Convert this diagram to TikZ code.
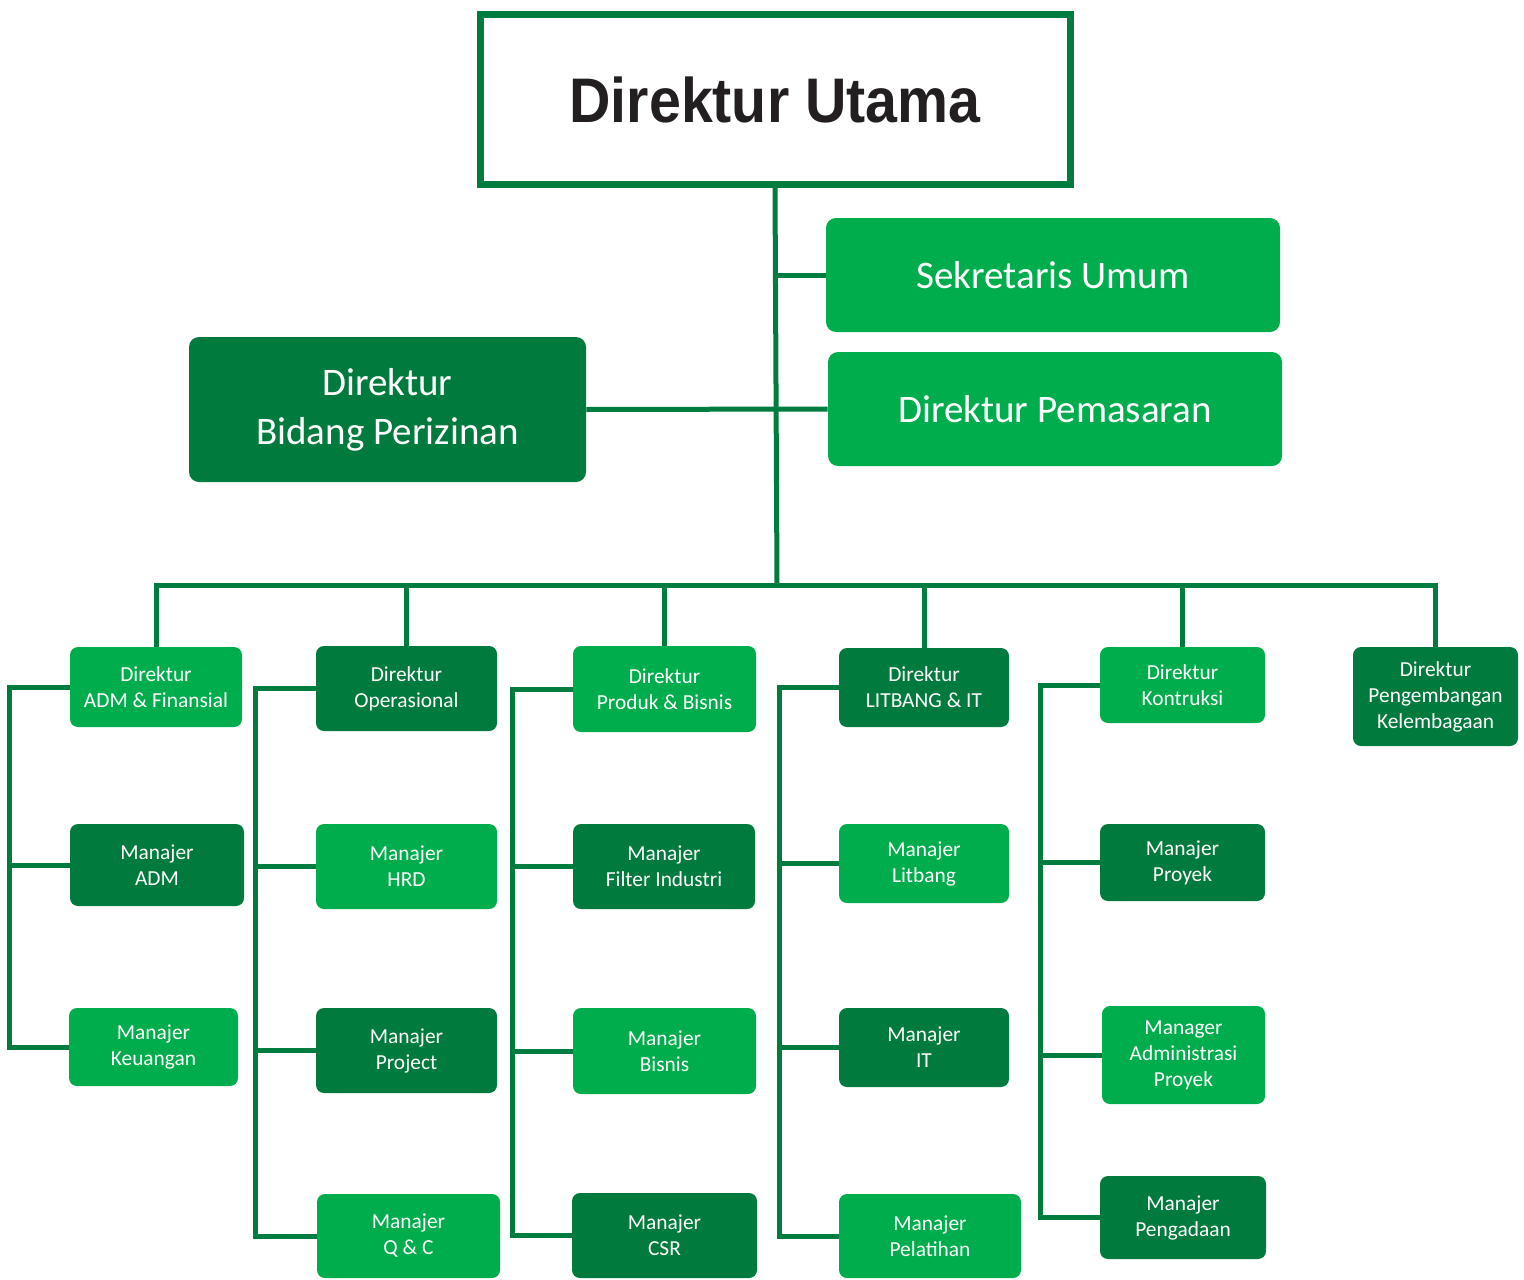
\documentclass[tikz,border=0pt]{standalone}
\usepackage{fontspec}
\usepackage{graphicx}
\usepackage{tikz}
\setmainfont{Carlito}
\newfontfamily\headfont{Liberation Sans}

\definecolor{lgreen}{RGB}{0,173,76}
\definecolor{dgreen}{RGB}{0,122,61}
\definecolor{lgreenline}{RGB}{0,125,62}
\definecolor{ink}{RGB}{35,31,32}

\tikzset{
	lightbox/.style={fill=lgreen, rounded corners=4pt, text=white, align=center, inner sep=0pt, font=\fontsize{10.7}{13}\selectfont},
	darkbox/.style={fill=dgreen, rounded corners=4pt, text=white, align=center, inner sep=0pt, font=\fontsize{10.7}{13}\selectfont},
	bigbox/.style={rounded corners=5pt, text=white, align=center, inner sep=0pt, font=\fontsize{19.5}{24.5}\selectfont},
	link/.style={draw=lgreenline, line width=2.5pt}
}

\begin{document}
\begin{tikzpicture}[x=0.5pt, y=-0.5pt]
	\useasboundingbox (0,0) rectangle (1524,1279);

	% top level
	\node[draw=lgreenline, line width=3.5pt, fill=white, minimum width=295pt, minimum height=84.5pt, inner sep=0pt] (utama) at (775,99.5)
		{\headfont\bfseries\fontsize{31.5}{36}\selectfont\color{ink}\scalebox{0.91}[1]{Direktur Utama}};
	\node[bigbox, fill=lgreen, minimum width=227pt, minimum height=57pt] (sekum) at (1053,275) {Sekretaris Umum};
	\node[bigbox, fill=lgreen, minimum width=227pt, minimum height=57pt] (pemasaran) at (1055,409) {Direktur Pemasaran};
	\node[bigbox, fill=dgreen, minimum width=198.5pt, minimum height=72.5pt] (izin) at (387.5,409.5) {Direktur\\Bidang Perizinan};

	% directors
	\node[lightbox, minimum width=86pt, minimum height=40pt] (d1) at (156,687) {Direktur\\ADM \& Finansial};
	\node[darkbox, minimum width=90.5pt, minimum height=42.5pt] (d2) at (406.5,688.5) {Direktur\\Operasional};
	\node[lightbox, minimum width=91.5pt, minimum height=43pt] (d3) at (664.5,689) {Direktur\\Produk \& Bisnis};
	\node[darkbox, minimum width=85pt, minimum height=39.5pt] (d4) at (924,687.5) {Direktur\\LITBANG \& IT};
	\node[lightbox, minimum width=82.5pt, minimum height=38pt] (d5) at (1182.5,685) {Direktur\\Kontruksi};
	\node[darkbox, minimum width=82.5pt, minimum height=49.5pt] (d6) at (1435.5,696.5) {Direktur\\Pengembangan\\Kelembagaan};

	% managers
	\node[darkbox, minimum width=87pt, minimum height=41pt] (m11) at (157,865) {Manajer\\ADM};
	\node[lightbox, minimum width=84.5pt, minimum height=39pt] (m12) at (153.5,1047) {Manajer\\Keuangan};

	\node[lightbox, minimum width=90.5pt, minimum height=42.5pt] (m21) at (406.5,866.5) {Manajer\\HRD};
	\node[darkbox, minimum width=90.5pt, minimum height=42.5pt] (m22) at (406.5,1050.5) {Manajer\\Project};
	\node[lightbox, minimum width=91.5pt, minimum height=42pt] (m23) at (408.5,1236) {Manajer\\Q \& C};

	\node[darkbox, minimum width=91pt, minimum height=42.5pt] (m31) at (664,866.5) {Manajer\\Filter Industri};
	\node[lightbox, minimum width=91.5pt, minimum height=43pt] (m32) at (664.5,1051) {Manajer\\Bisnis};
	\node[darkbox, minimum width=92.5pt, minimum height=42.5pt] (m33) at (664.5,1235.5) {Manajer\\CSR};

	\node[lightbox, minimum width=85pt, minimum height=39.5pt] (m41) at (924,863.5) {Manajer\\Litbang};
	\node[darkbox, minimum width=85pt, minimum height=39.5pt] (m42) at (924,1047.5) {Manajer\\IT};
	\node[lightbox, minimum width=91pt, minimum height=42pt] (m43) at (930,1236) {Manajer\\Pelatihan};

	\node[darkbox, minimum width=82.5pt, minimum height=38.5pt] (m51) at (1182.5,862.5) {Manajer\\Proyek};
	\node[lightbox, minimum width=81.5pt, minimum height=49pt] (m52) at (1183.5,1055) {Manager\\Administrasi\\Proyek};
	\node[darkbox, minimum width=83pt, minimum height=41.5pt] (m53) at (1183,1217.5) {Manajer\\Pengadaan};

	% trunk and bus
	\coordinate (bus) at (777,585);
	\coordinate (c1) at (9,0);
	\coordinate (c2) at (255,0);
	\coordinate (c3) at (512,0);
	\coordinate (c4) at (779,0);
	\coordinate (c5) at (1040,0);

	\draw[link] (utama.south) -- (bus);
	\draw[link] (sekum.west) -- (sekum.west -| bus);
	\draw[link] (izin.east) -- (pemasaran.west);
	\draw[link] (d1.north) |- (bus) -| (d6.north);
	\draw[link] (d2.north) -- (d2.north |- bus);
	\draw[link] (d3.north) -- (d3.north |- bus);
	\draw[link] (d4.north) -- (d4.north |- bus);
	\draw[link] (d5.north) -- (d5.north |- bus);

	% side lines
	\draw[link] (d1.west) -| (c1 |- m12.west) -- (m12.west);
	\draw[link] (m11.west) -- (m11.west -| c1);

	\draw[link] (d2.west) -| (c2 |- m23.west) -- (m23.west);
	\draw[link] (m21.west) -- (m21.west -| c2);
	\draw[link] (m22.west) -- (m22.west -| c2);

	\draw[link] (d3.west) -| (c3 |- m33.west) -- (m33.west);
	\draw[link] (m31.west) -- (m31.west -| c3);
	\draw[link] (m32.west) -- (m32.west -| c3);

	\draw[link] (d4.west) -| (c4 |- m43.west) -- (m43.west);
	\draw[link] (m41.west) -- (m41.west -| c4);
	\draw[link] (m42.west) -- (m42.west -| c4);

	\draw[link] (d5.west) -| (c5 |- m53.west) -- (m53.west);
	\draw[link] (m51.west) -- (m51.west -| c5);
	\draw[link] (m52.west) -- (m52.west -| c5);

\end{tikzpicture}
\end{document}
